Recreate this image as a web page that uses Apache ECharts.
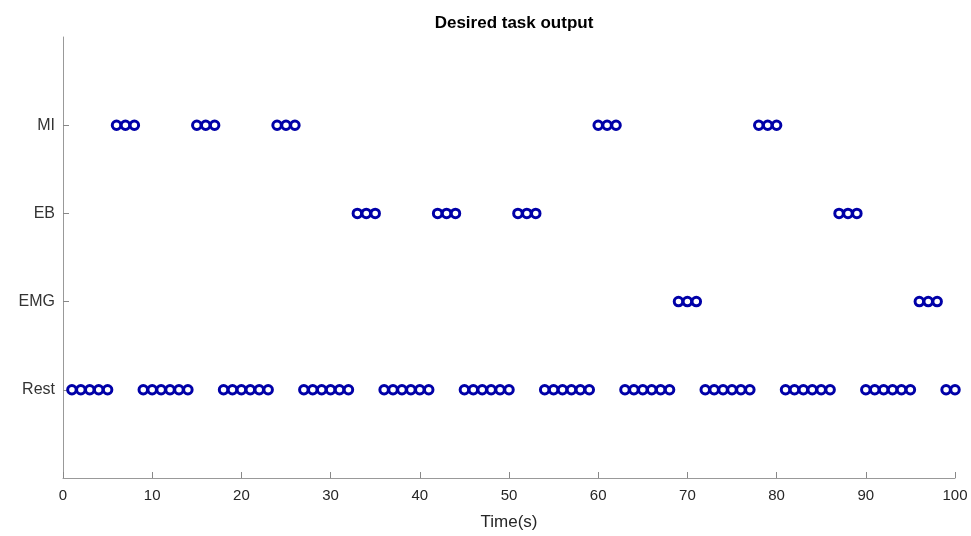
<!DOCTYPE html>
<html>
<head>
<meta charset="utf-8">
<script src="https://cdn.jsdelivr.net/npm/echarts@6/dist/echarts.min.js"></script>
<style>html,body{margin:0;padding:0;background:#fff;}#c{width:971px;height:536px;}</style>
</head>
<body>
<div id="c"></div>
<script>
var categories = ['Rest', 'EMG', 'EB', 'MI'];
var restTimes = [1,2,3,4,5, 9,10,11,12,13,14, 18,19,20,21,22,23, 27,28,29,30,31,32, 36,37,38,39,40,41, 45,46,47,48,49,50, 54,55,56,57,58,59, 63,64,65,66,67,68, 72,73,74,75,76,77, 81,82,83,84,85,86, 90,91,92,93,94,95, 99,100];
var emgTimes = [69,70,71, 96,97,98];
var ebTimes = [33,34,35, 42,43,44, 51,52,53, 87,88,89];
var miTimes = [6,7,8, 15,16,17, 24,25,26, 60,61,62, 78,79,80];
var xTicks = [0,10,20,30,40,50,60,70,80,90,100];

var groups = [restTimes, emgTimes, ebTimes, miTimes];
var data = [];
groups.forEach(function (g, i) { g.forEach(function (t) { data.push([t, i + 1]); }); });

var font = '"Liberation Sans", Arial, sans-serif';
var chart = echarts.init(document.getElementById('c'), null, {renderer: 'canvas'});
chart.setOption({
  animation: false,
  backgroundColor: '#fff',
  title: {
    text: 'Desired task output',
    left: 509, top: 10, textAlign: 'center',
    textStyle: {fontFamily: font, fontSize: 17, fontWeight: 'bold', color: '#000'}
  },
  grid: {left: 63, right: 16, top: 37, bottom: 52, containLabel: false},
  xAxis: {
    type: 'value', min: 0, max: 100, interval: 10,
    name: 'Time(s)', nameLocation: 'middle', nameGap: 36,
    nameTextStyle: {fontFamily: font, fontSize: 17, color: '#262626'},
    axisLine: {show: true, lineStyle: {color: '#999', width: 1}},
    axisTick: {show: true, inside: true, length: 6, lineStyle: {color: '#888'}},
    axisLabel: {fontFamily: font, fontSize: 15, color: '#262626', margin: 10,
      customValues: xTicks},
    splitLine: {show: false}
  },
  yAxis: {
    type: 'value', min: 0, max: 5, interval: 1,
    axisLine: {show: true, lineStyle: {color: '#999', width: 1}},
    axisTick: {show: true, inside: true, length: 6, lineStyle: {color: '#888'}, customValues: [1,2,3,4]},
    axisLabel: {fontFamily: font, fontSize: 16, color: '#333', margin: 8,
      customValues: [1,2,3,4],
      formatter: function (v) { return categories[v - 1] || ''; }},
    splitLine: {show: false}
  },
  series: [{
    type: 'scatter',
    data: data,
    symbol: 'circle',
    symbolSize: 8.5,
    itemStyle: {color: '#fff', borderColor: '#0000a8', borderWidth: 3, opacity: 1}
  }]
});
</script>
</body>
</html>
